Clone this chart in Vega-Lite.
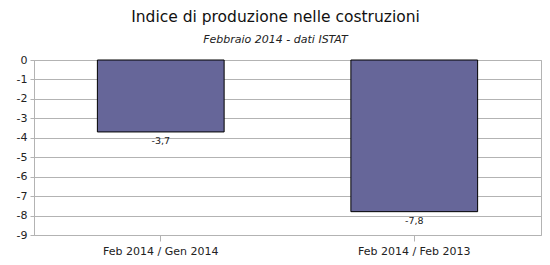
{
  "$schema": "https://vega.github.io/schema/vega-lite/v6.json",
  "autosize": {"type": "none"},
  "width": 507,
  "height": 175,
  "padding": {"left": 34, "top": 60, "right": 9, "bottom": 30},
  "background": "white",
  "config": {
    "font": "DejaVu Sans",
    "locale": {"number": {"decimal": ",", "thousands": ".", "grouping": [3], "currency": ["€", ""], "minus": "-"}},
    "view": {"stroke": "#b3b3b3", "strokeWidth": 1},
    "axis": {"labelFont": "DejaVu Sans", "labelColor": "#222", "domainColor": "#b3b3b3", "tickColor": "#b3b3b3", "gridColor": "#b3b3b3"}
  },
  "title": {
    "text": "Indice di produzione nelle costruzioni",
    "subtitle": "Febbraio 2014 - dati ISTAT",
    "anchor": "middle",
    "dx": -12,
    "offset": 9,
    "font": "DejaVu Sans",
    "fontSize": 15.5,
    "fontWeight": "normal",
    "color": "#111",
    "subtitleFont": "DejaVu Sans",
    "subtitleFontSize": 11,
    "subtitleFontStyle": "italic",
    "subtitleColor": "#222",
    "subtitlePadding": 9
  },
  "data": {
    "values": [
      {"confronto": "Feb 2014 / Gen 2014", "valore": -3.7},
      {"confronto": "Feb 2014 / Feb 2013", "valore": -7.8}
    ]
  },
  "encoding": {
    "x": {
      "field": "confronto",
      "type": "nominal",
      "sort": null,
      "scale": {"paddingInner": 0.5, "paddingOuter": 0.25},
      "axis": {"title": null, "labelAngle": 0, "labelFontSize": 11, "tickSize": 6, "labelPadding": 4, "domain": false, "grid": false}
    },
    "y": {
      "field": "valore",
      "type": "quantitative",
      "scale": {"domain": [-9, 0], "nice": false},
      "axis": {"title": null, "values": [0, -1, -2, -3, -4, -5, -6, -7, -8, -9], "format": "d", "labelFontSize": 11, "tickSize": 4, "labelPadding": 3, "grid": true}
    }
  },
  "layer": [
    {
      "mark": {"type": "bar", "color": "#666699", "stroke": "#000", "strokeWidth": 1}
    },
    {
      "mark": {"type": "text", "baseline": "top", "dy": 4, "fontSize": 9.5, "color": "#222"},
      "encoding": {
        "text": {"field": "valore", "type": "quantitative", "format": ".1f"}
      }
    }
  ]
}
